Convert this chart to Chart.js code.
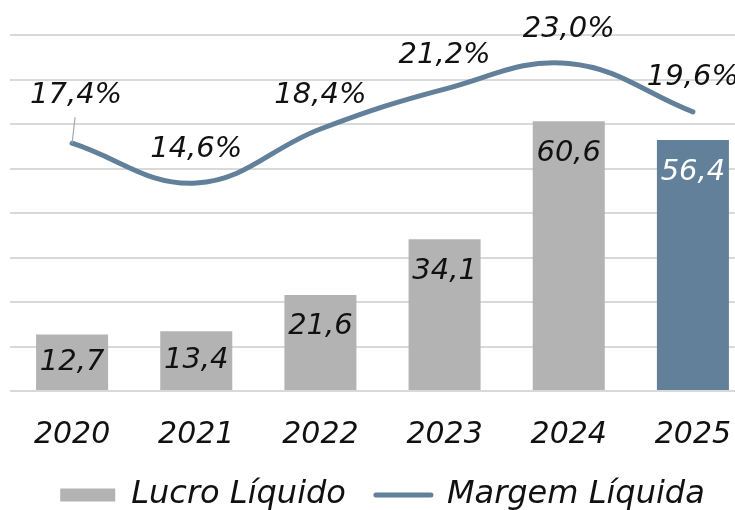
<!DOCTYPE html>
<html>
<head>
<meta charset="utf-8">
<script src="https://cdn.jsdelivr.net/npm/chart.js@4/dist/chart.umd.min.js"></script>
<style>
  html, body { margin: 0; padding: 0; background: #ffffff; overflow: hidden; }
  #wrap { position: relative; width: 765px; height: 510px; }
</style>
</head>
<body>
<div id="wrap"><canvas id="c"></canvas></div>
<script>
const categories = ['2020', '2021', '2022', '2023', '2024', '2025'];
const lucroLiquido = [12.7, 13.4, 21.6, 34.1, 60.6, 56.4];
const margemLiquida = [17.4, 14.6, 18.4, 21.2, 23.0, 19.6];
const seriesNames = ['Lucro Líquido', 'Margem Líquida'];

const GRAY = '#b3b3b3';
const BLUE = '#62809a';
const FONT = 'DejaVu Sans';

const fmt = v => v.toFixed(1).replace('.', ',');

const labelPlugin = {
  id: 'valueLabels',
  afterDatasetsDraw(chart) {
    const ctx = chart.ctx;
    ctx.save();
    ctx.font = 'italic 29px "' + FONT + '"';
    ctx.textAlign = 'center';
    ctx.textBaseline = 'middle';
    const barMeta = chart.getDatasetMeta(0);
    barMeta.data.forEach((el, i) => {
      ctx.fillStyle = i === lucroLiquido.length - 1 ? '#ffffff' : '#111111';
      ctx.fillText(fmt(lucroLiquido[i]), el.x, Math.min(el.y + 32, (el.y + el.base) / 2));
    });
    const lineMeta = chart.getDatasetMeta(1);
    lineMeta.data.forEach((el, i) => {
      let dx = 0, dy = -34;
      if (i === 0) {
        dx = 4; dy = -48;
        ctx.strokeStyle = '#a6a6a6';
        ctx.lineWidth = 1.2;
        ctx.beginPath();
        ctx.moveTo(el.x, el.y);
        ctx.lineTo(el.x + 3, el.y - 26);
        ctx.stroke();
      }
      ctx.fillStyle = '#111111';
      ctx.fillText(fmt(margemLiquida[i]) + '%', el.x + dx, el.y + dy);
    });
    ctx.restore();
  }
};

new Chart(document.getElementById('c'), {
  data: {
    labels: categories,
    datasets: [
      {
        type: 'bar',
        label: seriesNames[0],
        data: lucroLiquido,
        backgroundColor: lucroLiquido.map((v, i) => i === lucroLiquido.length - 1 ? BLUE : GRAY),
        borderWidth: 0,
        categoryPercentage: 1,
        barPercentage: 0.58,
        yAxisID: 'y',
        order: 1
      },
      {
        type: 'line',
        label: seriesNames[1],
        data: margemLiquida,
        borderColor: BLUE,
        backgroundColor: BLUE,
        borderWidth: 5,
        borderCapStyle: 'round',
        borderJoinStyle: 'round',
        tension: 0.4,
        pointRadius: 0,
        fill: false,
        yAxisID: 'y2',
        order: 0
      }
    ]
  },
  options: {
    responsive: true,
    maintainAspectRatio: false,
    animation: false,
    layout: { padding: { left: 10, right: 10, top: 35, bottom: -11 } },
    scales: {
      x: {
        grid: { display: false },
        border: { display: false },
        afterFit(scale) { scale.height = 58; },
        ticks: {
          color: '#111111',
          padding: 18,
          font: { family: FONT, size: 30, style: 'italic' }
        }
      },
      y: {
        min: 0, max: 80,
        ticks: { display: false, stepSize: 10 },
        border: { display: false },
        grid: { color: '#d9d9d9', lineWidth: 2, drawTicks: false }
      },
      y2: {
        min: 0, max: 25,
        display: false
      }
    },
    plugins: {
      tooltip: { enabled: false },
      legend: {
        position: 'bottom',
        labels: {
          color: '#111111',
          font: { family: FONT, size: 32, style: 'italic' },
          usePointStyle: true,
          pointStyleWidth: 55,
          boxHeight: 13,
          padding: 30,
          generateLabels(chart) {
            const items = Chart.defaults.plugins.legend.labels.generateLabels(chart);
            items.sort((a, b) => a.datasetIndex - b.datasetIndex);
            items.forEach(it => {
              if (it.datasetIndex === 0) {
                it.pointStyle = 'rect';
                it.fillStyle = GRAY;
                it.strokeStyle = GRAY;
                it.lineWidth = 0;
              } else {
                it.pointStyle = 'line';
                it.strokeStyle = BLUE;
                it.fillStyle = BLUE;
                it.lineWidth = 5;
                it.lineCap = 'round';
              }
            });
            return items;
          }
        }
      }
    }
  },
  plugins: [labelPlugin]
});
</script>
</body>
</html>
